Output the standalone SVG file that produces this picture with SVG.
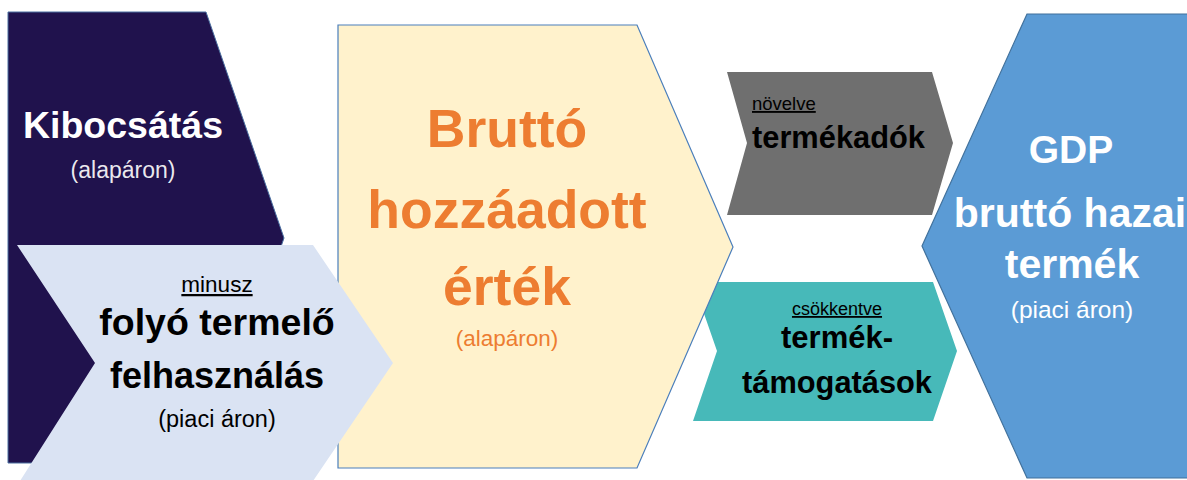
<svg xmlns="http://www.w3.org/2000/svg" width="1187" height="480" viewBox="0 0 1187 480">
<style>
text{font-family:"Liberation Sans",Arial,sans-serif;text-anchor:middle}
.b{font-weight:bold}
.w{fill:#ffffff}
.k{fill:#000000}
.o{fill:#ed7d31}
.u{text-decoration:underline}
.s{text-anchor:start}
</style>
<rect width="1187" height="480" fill="#ffffff"/>
<g id="kibocsatas">
<polygon points="8,12 206,12 284,238 206,463 8,463" fill="#20124d" stroke="#4a6fa0" stroke-width="1"/>
<text x="123" y="138" class="b w" font-size="37.5">Kibocsátás</text>
<text x="123" y="178" class="w" font-size="23" fill-opacity="0.92">(alapáron)</text>
</g>
<g id="termektamogatasok">
<polygon points="693,282 933,282 957,351 933,421 693,421 717,351" fill="#47b9b9"/>
<text x="837" y="315" class="k u" font-size="18">csökkentve</text>
<text x="837" y="348" class="b k" font-size="31">termék-</text>
<text x="837" y="393" class="b k" font-size="30.8">támogatások</text>
</g>
<g id="brutto-hozzaadott-ertek">
<polygon points="338,25 637,25 733,247 637,468 338,468" fill="#fff2cc" stroke="#4a7ebb" stroke-width="1.2"/>
<text x="507" y="147" class="b o" font-size="53.5">Bruttó</text>
<text x="507" y="228" class="b o" font-size="53.5">hozzáadott</text>
<text x="507" y="305" class="b o" font-size="53.5">érték</text>
<text x="507" y="346" class="o" font-size="22.5">(alapáron)</text>
</g>
<g id="folyo-termelo-felhasznalas">
<polygon points="17,245 313,245 393,363 313,481 20,481 95,363" fill="#dae3f3"/>
<text x="217" y="292" class="k u" font-size="22.5">minusz</text>
<text x="217" y="335" class="b k" font-size="37.5">folyó termelő</text>
<text x="217" y="388" class="b k" font-size="36">felhasználás</text>
<text x="217" y="427" class="k" font-size="23.5">(piaci áron)</text>
</g>
<g id="termekadok">
<polygon points="727,72 932,72 953,143 932,215 727,215 747,143" fill="#6f6f6f"/>
<text x="752" y="110" class="k u s" font-size="18.5">növelve</text>
<text x="752" y="148" class="b k s" font-size="30.8">termékadók</text>
</g>
<g id="gdp">
<polygon points="1027,14 1200,14 1200,478 1027,478 922,246" fill="#5b9bd5" stroke="#41719c" stroke-width="1.2"/>
<text x="1071" y="163" class="b w" font-size="39">GDP</text>
<text x="1070" y="227" class="b w" font-size="41">bruttó hazai</text>
<text x="1072" y="278" class="b w" font-size="41">termék</text>
<text x="1072" y="318" class="w" font-size="24.5">(piaci áron)</text>
</g>
<g id="connectors"></g>
</svg>
